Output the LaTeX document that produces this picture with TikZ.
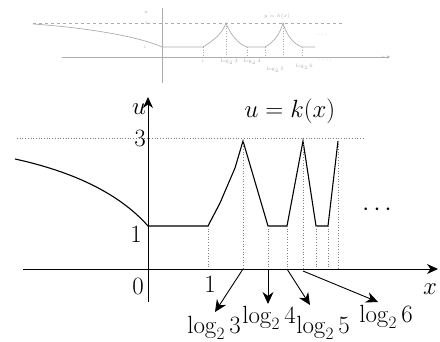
\documentclass[tikz,border=0pt]{standalone}
\usetikzlibrary{arrows.meta}
\begin{document}
\begin{tikzpicture}[x=1pt,y=-1pt,
  axis/.style={line width=0.9pt,-{Stealth[length=11pt,width=10pt]}},
  graph/.style={line width=1.1pt,line join=miter},
  guide/.style={gray,dotted,line width=0.7pt},
  pointer/.style={line width=0.9pt,-{Stealth[length=12pt,width=11pt]}},
  lab/.style={font=\fontsize{24}{28}\selectfont,inner sep=0pt},
  thumb/.style={gray!65,line width=0.6pt},
  thumbtxt/.style={gray!65,font=\fontsize{4}{5}\selectfont,inner sep=0pt}]
\useasboundingbox (0,0) rectangle (440,342);

% ---------- faint thumbnail at the top ----------
\coordinate (tX0) at (62,57);
\coordinate (tX1) at (390,57);
\coordinate (tY0) at (162,83);
\coordinate (tY1) at (162,8);
\coordinate (tD0) at (33,23);
\coordinate (tD1) at (345,23);
\draw[thumb,-{Stealth[length=3pt,width=3pt]}] (tX0) -- (tX1);
\draw[thumb] (tY0) -- (tY1);
\draw[thumb,dashed] (tD0) -- (tD1);
\coordinate (tc0) at (33,24);
\coordinate (tc1) at (162,47);
\coordinate (tc2) at (203,47);
\coordinate (tp1) at (226,23);
\coordinate (tc3) at (247,47);
\coordinate (tc4) at (265,47);
\coordinate (tp2) at (283,23);
\coordinate (tc5) at (302,47);
\coordinate (tc6) at (315,47);
\draw[thumb,line width=0.7pt] (tc0) .. controls (90,28) and (140,37) .. (tc1) -- (tc2)
  .. controls (214,40) and (222,34) .. (tp1) .. controls (230,34) and (238,44) .. (tc3) -- (tc4)
  .. controls (274,42) and (280,34) .. (tp2) .. controls (286,34) and (293,44) .. (tc5) -- (tc6);
\foreach \p/\q in {tc2/203,tp1/226,tc3/247,tc4/265,tp2/283,tc5/302}
  \draw[thumb,dotted] (\p) -- (\q,57);
\node[thumbtxt] (tk) at (277,16) {$y=k(x)$};
\node[thumbtxt] (tu) at (146,12) {$u$};
\node[thumbtxt] (t3) at (146,23) {3};
\node[thumbtxt] (t1) at (145,47) {1};
\node[thumbtxt] (tx) at (383,57) {$x$};
\node[thumbtxt] (tone) at (203,61) {1};
\node[thumbtxt] (tl3) at (229,62) {$\log_2 3$};
\node[thumbtxt] (tl4) at (252,62) {$\log_2 4$};
\node[thumbtxt] (tl5) at (275,70) {$\log_2 5$};
\node[thumbtxt] (tl6) at (304,67) {$\log_2 6$};
\node[thumbtxt] (tdots1) at (322,35) {- - -};
\node[thumbtxt] (tdots2) at (325,60) {- - - -};

% ---------- main graph ----------
\coordinate (O) at (148,269);
\coordinate (xs) at (23,269);
\coordinate (xe) at (438,269);
\coordinate (ys) at (148,302);
\coordinate (ye) at (148,97);
\coordinate (d0) at (17,138);
\coordinate (d1) at (363,138);

\draw[guide] (d0) -- (d1);
\draw[axis] (xs) -- (xe);
\draw[axis] (ys) -- (ye);

\coordinate (a0) at (15,159);
\coordinate (a1) at (148,226);
\coordinate (a2) at (208,226);
\coordinate (k1) at (220,203);
\coordinate (k2) at (235,168);
\coordinate (p1) at (243,141);
\coordinate (a3) at (268,226);
\coordinate (a4) at (287,226);
\coordinate (p2) at (303,141);
\coordinate (a5) at (316,226);
\coordinate (a6) at (328,226);
\coordinate (p3) at (338,141);

\draw[graph] (a0) .. controls (70,171) and (118,192) .. (a1) -- (a2) -- (k1) -- (k2) -- (p1)
  -- (a3) -- (a4) -- (p2) -- (a5) -- (a6) -- (p3);

\foreach \p/\q in {a2/208,p1/243,a3/268,a4/287,p2/303,a5/316,a6/328,p3/338}
  \draw[guide] (\p) -- (\q,269);

% labels
\node[lab] (lu) at (139,109) {$u$};
\node[lab] (l3y) at (140,138) {$3$};
\node[lab] (l1y) at (136,234) {$1$};
\node[lab] (l0) at (138,286) {$0$};
\node[lab] (l1x) at (210,284) {$1$};
\node[lab] (lx) at (430,289) {$x$};
\node[lab,anchor=base] (lk) at (290,118) {$u=k(x)$};
\node[lab] (ldots) at (377,210) {$\cdots$};

\node[lab,anchor=base] (lg3) at (214,334) {$\log_2 3$};
\node[lab,anchor=base] (lg4) at (269,324) {$\log_2 4$};
\node[lab,anchor=base] (lg5) at (323,334) {$\log_2 5$};
\node[lab,anchor=base] (lg6) at (386,323) {$\log_2 6$};

\coordinate (s3) at (243,269);
\coordinate (s4) at (268,269);
\coordinate (s5) at (287,269);
\coordinate (s6) at (303,271);
\coordinate (e3) at (215,312);
\coordinate (e4) at (268,304);
\coordinate (e5) at (310,305);
\coordinate (e6) at (378,302);
\draw[pointer] (s3) -- (e3);
\draw[pointer] (s4) -- (e4);
\draw[pointer] (s5) -- (e5);
\draw[pointer] (s6) -- (e6);
\end{tikzpicture}
\end{document}
